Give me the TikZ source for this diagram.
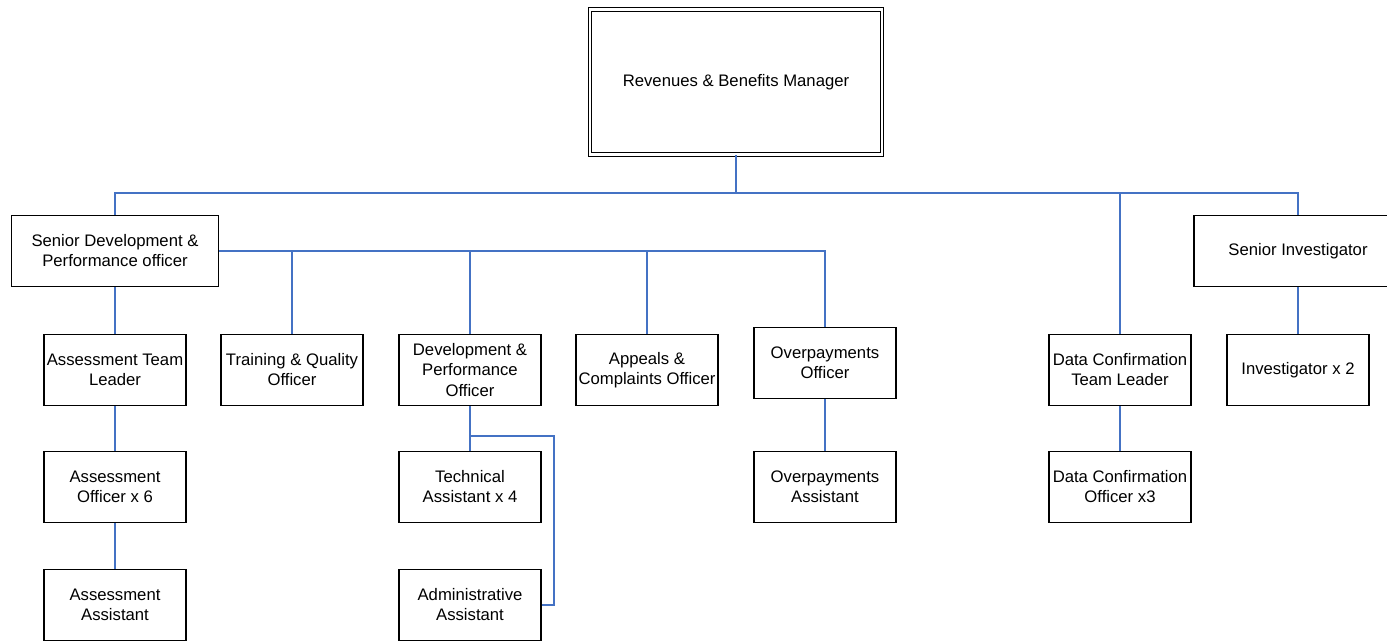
\documentclass[tikz,border=0pt]{standalone}
\usepackage{fontspec}
\setmainfont{Liberation Sans}
\usepackage{tikz}
\usepackage{xcolor}
\definecolor{linkblue}{RGB}{68,114,196}

\begin{document}
\begin{tikzpicture}[x=0.02cm,y=-0.02cm,
		post/.style={draw=black,line width=0.8pt,fill=white,align=center,
			minimum width=2.84cm,minimum height=1.42cm,inner sep=1pt,
			font=\fontsize{9.5}{11.4}\selectfont},
		link/.style={draw=linkblue,line width=0.75pt}]
		\useasboundingbox (0,0) rectangle (1387,640);
		% top of the chart
		\node[draw=black,double,line width=0.55pt,double distance=1.2pt,
			minimum width=5.84cm,minimum height=2.9cm,
			font=\fontsize{9.5}{11.4}\selectfont] (mgr) at (736,82) {Revenues \& Benefits Manager};
		\node[post,minimum width=4.14cm] (sdpo) at (115,251) {Senior Development \&\\Performance officer};
		\node[post,minimum width=4.16cm] (sinv) at (1298,251) {Senior Investigator};
		% second row
		\node[post] (atl) at (115,370) {Assessment Team\\Leader};
		\node[post] (tqo) at (292,370) {Training \& Quality\\Officer};
		\node[post] (dpo) at (470,370) {Development \&\\Performance\\Officer};
		\node[post] (aco) at (647,370) {Appeals \&\\Complaints Officer};
		\node[post] (opo) at (825,363) {Overpayments\\Officer};
		\node[post] (dctl) at (1120,370) {Data Confirmation\\Team Leader};
		\node[post] (inv) at (1298,370) {Investigator x 2};
		% lower rows
		\node[post] (aso) at (115,487) {Assessment\\Officer x 6};
		\node[post] (asa) at (115,605) {Assessment\\Assistant};
		\node[post] (tech) at (470,487) {Technical\\Assistant x 4};
		\node[post] (adm) at (470,605) {Administrative\\Assistant};
		\node[post] (opa) at (825,487) {Overpayments\\Assistant};
		\node[post] (dco) at (1120,487) {Data Confirmation\\Officer x3};
		% connectors
		\coordinate (bus) at (736,193);
		\coordinate (split) at (470,436);
		\coordinate (bend) at (554,436);
		\draw[link] (mgr.south) -- (bus);
		\foreach \p in {sdpo,dctl,sinv}
		{
			\draw[link] (bus) -| (\p.north);
		}
		\foreach \p in {tqo,dpo,aco,opo}
		{
			\draw[link] (sdpo.east) -| (\p.north);
		}
		\draw[link] (sdpo) -- (atl);
		\draw[link] (atl) -- (aso);
		\draw[link] (aso) -- (asa);
		\draw[link] (dpo.south) -- (tech.north);
		\draw[link] (split) -- (bend) |- (adm.east);
		\draw[link] (opo) -- (opa);
		\draw[link] (dctl) -- (dco);
		\draw[link] (sinv.south) -- (inv.north);
\end{tikzpicture}
\end{document}
